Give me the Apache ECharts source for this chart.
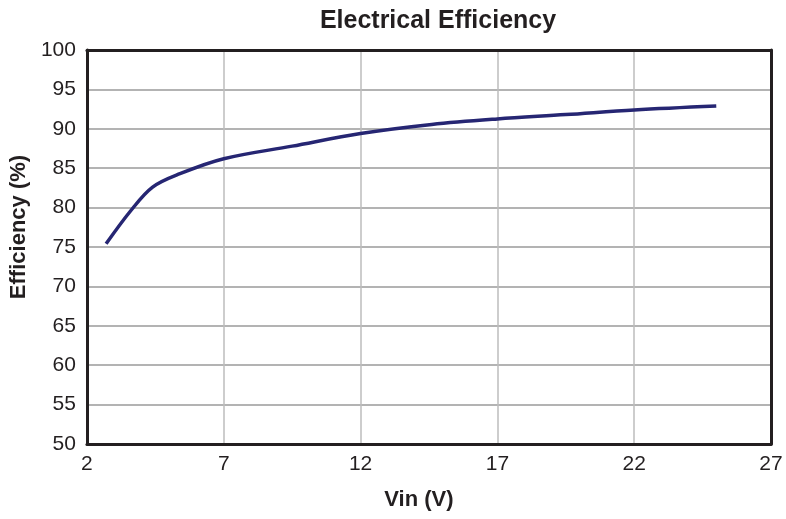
<!DOCTYPE html>
<html>
<head>
<meta charset="utf-8">
<script src="https://cdn.jsdelivr.net/npm/echarts@6/dist/echarts.min.js"></script>
<style>html,body{margin:0;padding:0;background:#fff;}#c{width:786px;height:519px;}</style>
</head>
<body>
<div id="c"></div>
<script>
const vin = [2.7, 3.6, 4.4, 5.4, 7, 9.5, 12, 14.6, 17, 19.5, 22, 25];
const efficiency = [75.4, 79.6, 82.6, 84.3, 86.2, 87.8, 89.4, 90.55, 91.25, 91.8, 92.4, 92.9];
const xTicks = [2, 7, 12, 17, 22, 27];
const yTicks = [50, 55, 60, 65, 70, 75, 80, 85, 90, 95, 100];

const chart = echarts.init(document.getElementById('c'), null, {renderer: 'canvas'});
const font = 'Liberation Sans, Arial, Helvetica, sans-serif';
const ink = '#231f20';
const frameAxis = {
  type: 'value', interval: 5,
  axisLine: {show: true, lineStyle: {color: ink, width: 3}},
  axisTick: {show: false}, axisLabel: {show: false}, splitLine: {show: false}
};
chart.setOption({
  animation: false,
  backgroundColor: '#fff',
  title: {
    text: 'Electrical Efficiency',
    left: 433, top: 4, textAlign: 'center',
    textStyle: {fontFamily: font, fontSize: 25, fontWeight: 'bold', color: ink}
  },
  grid: {left: 85, right: 15, top: 50, bottom: 75, containLabel: false},
  xAxis: [{
    type: 'value', min: xTicks[0], max: xTicks[xTicks.length - 1], interval: 5,
    name: 'Vin (V)', nameLocation: 'middle', nameGap: 45,
    nameTextStyle: {fontFamily: font, fontSize: 22, fontWeight: 'bold', color: ink, padding: [0, 20, 0, 0]},
    axisLine: {show: true, lineStyle: {color: ink, width: 3}},
    axisTick: {show: false},
    axisLabel: {fontFamily: font, fontSize: 21, color: ink, margin: 10},
    splitLine: {show: true, lineStyle: {color: '#bdbdbd', width: 1.5}}
  }, Object.assign({}, frameAxis, {position: 'top', min: xTicks[0], max: xTicks[xTicks.length - 1]})],
  yAxis: [{
    type: 'value', min: yTicks[0], max: yTicks[yTicks.length - 1], interval: 5,
    name: 'Efficiency (%)', nameLocation: 'middle', nameGap: 52,
    nameTextStyle: {fontFamily: font, fontSize: 22, fontWeight: 'bold', color: ink, padding: [0, 0, 0, 40]},
    axisLine: {show: true, lineStyle: {color: ink, width: 3}},
    axisTick: {show: false},
    axisLabel: {fontFamily: font, fontSize: 21, color: ink, margin: 11},
    splitLine: {show: true, lineStyle: {color: '#9a9a9a', width: 1.5}}
  }, Object.assign({}, frameAxis, {position: 'right', min: yTicks[0], max: yTicks[yTicks.length - 1]})],
  series: [{
    type: 'line',
    data: vin.map((v, i) => [v, efficiency[i]]),
    smooth: 0.35,
    showSymbol: false,
    lineStyle: {color: '#262673', width: 3.5}
  }]
});
</script>
</body>
</html>
